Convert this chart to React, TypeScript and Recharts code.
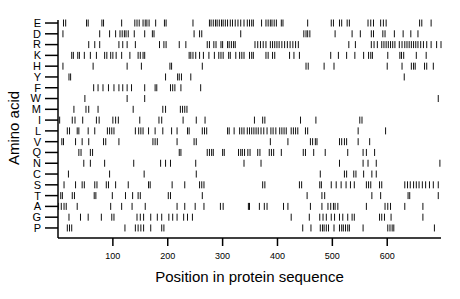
import { ScatterChart, Scatter, XAxis, YAxis, Label } from "recharts";

const aminoAcids = ["E", "D", "R", "K", "H", "Y", "F", "W", "M", "I", "L", "V", "Q", "N", "C", "S", "T", "A", "G", "P"];

// positions of each residue along the sequence
const posE = [10, 14, 52, 55, 80, 83, 116, 140, 144, 148, 155, 159, 162, 166, 178, 194, 197, 246, 276, 279, 283, 287, 290, 294, 298, 301, 305, 309, 314, 318, 323, 328, 333, 339, 345, 349, 353, 356, 371, 379, 383, 387, 390, 394, 398, 407, 410, 455, 498, 502, 513, 517, 527, 531, 565, 570, 575, 588, 593, 598, 659, 663, 680];
const posD = [9, 76, 94, 105, 113, 117, 121, 124, 128, 139, 158, 172, 175, 248, 258, 262, 333, 448, 452, 455, 459, 505, 536, 551, 571, 575, 592, 596, 613, 629, 643, 656];
const posR = [56, 67, 76, 111, 118, 126, 141, 185, 193, 197, 221, 233, 272, 276, 284, 288, 297, 300, 309, 312, 316, 320, 323, 359, 364, 369, 374, 379, 387, 391, 395, 399, 403, 408, 413, 418, 423, 428, 433, 438, 530, 542, 571, 576, 582, 590, 594, 598, 602, 606, 610, 614, 622, 627, 632, 636, 640, 644, 648, 652, 656, 661, 666, 672, 680, 690, 698];
const posK = [25, 28, 36, 39, 48, 59, 70, 85, 89, 96, 100, 106, 116, 131, 146, 150, 155, 158, 239, 242, 246, 251, 258, 265, 275, 285, 293, 297, 301, 311, 314, 324, 331, 335, 339, 349, 353, 356, 379, 383, 391, 395, 422, 430, 440, 497, 511, 526, 541, 557, 566, 570, 573, 601, 623, 626, 630, 653, 671];
const posH = [9, 64, 126, 152, 204, 207, 263, 452, 456, 485, 503, 600, 627, 644, 648, 651, 668, 672, 684];
const posY = [20, 23, 196, 218, 221, 225, 242, 631];
const posF = [65, 73, 82, 92, 102, 111, 118, 126, 134, 158, 177, 180, 205, 209, 213, 224, 260];
const posW = [49, 126, 158, 693];
const posM = [29, 51, 56, 73, 137, 191, 196, 223, 227, 231, 235];
const posI = [3, 26, 31, 45, 70, 75, 100, 105, 110, 149, 184, 189, 228, 252, 268, 358, 373, 377, 442, 470, 550, 554];
const posL = [17, 21, 35, 38, 55, 67, 90, 94, 98, 102, 141, 147, 151, 155, 165, 177, 191, 207, 217, 236, 239, 263, 267, 271, 309, 312, 321, 331, 335, 339, 345, 349, 353, 357, 361, 365, 370, 375, 381, 388, 392, 397, 404, 408, 412, 416, 425, 429, 433, 437, 451, 455, 547, 597];
const posV = [7, 10, 32, 44, 56, 83, 87, 111, 173, 177, 181, 217, 248, 252, 387, 419, 460, 464, 469, 472, 513, 517, 522, 526, 547, 568];
const posQ = [38, 42, 59, 63, 221, 224, 272, 276, 280, 283, 300, 303, 329, 333, 336, 340, 346, 350, 364, 368, 385, 389, 393, 407, 447, 451, 466, 487, 528, 556, 562, 577];
const posN = [47, 59, 85, 138, 187, 196, 205, 251, 339, 370, 513, 556, 565, 580, 696];
const posC = [19, 94, 157, 252, 478, 522, 526, 539, 543, 557, 572, 580];
const posS = [11, 32, 44, 48, 67, 71, 88, 92, 105, 128, 165, 168, 208, 231, 258, 262, 266, 373, 377, 440, 444, 477, 480, 498, 507, 516, 525, 533, 540, 562, 566, 570, 586, 590, 632, 637, 642, 648, 653, 658, 664, 670, 677, 684, 693];
const posT = [5, 8, 26, 30, 66, 69, 99, 123, 136, 146, 150, 201, 205, 263, 454, 481, 486, 572, 588, 638, 641, 693];
const posA = [1, 6, 11, 15, 35, 96, 116, 135, 159, 217, 231, 250, 266, 296, 301, 347, 349, 367, 376, 381, 411, 419, 460, 481, 492, 497, 502, 505, 510, 562, 596, 601, 606, 632, 665];
const posG = [20, 41, 55, 79, 98, 102, 144, 150, 156, 169, 181, 189, 202, 209, 217, 229, 236, 245, 425, 458, 477, 483, 489, 498, 504, 513, 519, 528, 536, 540, 586, 590, 595, 607, 665];
const posP = [17, 21, 25, 122, 141, 146, 151, 156, 169, 189, 193, 446, 461, 478, 482, 485, 489, 493, 503, 513, 517, 520, 524, 528, 531, 556, 601, 605, 609, 612, 686];

const positions = [posE, posD, posR, posK, posH, posY, posF, posW, posM, posI, posL, posV, posQ, posN, posC, posS, posT, posA, posG, posP];

const xTicks = [100, 200, 300, 400, 500, 600];
const yTicks = aminoAcids.map((_, i) => i);

const FONT = "'Liberation Sans', Arial, Helvetica, sans-serif";

// top row (E) gets the highest y value
const points = aminoAcids.flatMap((aa, i) =>
  positions[i].map((p) => ({ pos: p, row: aminoAcids.length - 1 - i, aa }))
);

function Dash(props: any) {
  const { cx, cy } = props;
  if (cx == null || cy == null) return null;
  return <line x1={cx} x2={cx} y1={cy - 3.5} y2={cy + 3.5} stroke="#111" strokeWidth={1} />;
}

export default function App() {
  return (
    <div style={{ position: "absolute", left: 0, top: 0, width: 460, height: 299, background: "#fff" }}>
      <ScatterChart
        width={460}
        height={299}
        margin={{ top: 20, right: 19, bottom: 0, left: 0 }}
        style={{ fontFamily: FONT }}
      >
        <XAxis
          type="number"
          dataKey="pos"
          domain={[0, 698]}
          ticks={xTicks}
          height={61}
          tickSize={8}
          tickMargin={7}
          axisLine={{ stroke: "#000", strokeWidth: 1.5 }}
          tickLine={{ stroke: "#000", strokeWidth: 1.5 }}
          tick={{ fontSize: 9, fill: "#000", fontFamily: FONT }}
        >
          <Label
            value="Position in protein sequence"
            position="insideBottom"
            offset={17}
            style={{ fontSize: 15, fill: "#000", fontFamily: FONT }}
          />
        </XAxis>
        <YAxis
          type="number"
          dataKey="row"
          domain={[-0.93, 19.28]}
          ticks={yTicks}
          interval={0}
          width={58}
          tickSize={13}
          tickMargin={4}
          tickFormatter={(v: number) => aminoAcids[aminoAcids.length - 1 - v]}
          axisLine={{ stroke: "#000", strokeWidth: 1.5 }}
          tickLine={{ stroke: "#000", strokeWidth: 1.5 }}
          tick={{ fontSize: 11, fill: "#000", fontFamily: FONT }}
        >
          <Label
            content={() => (
              <text
                x={13}
                y={128}
                transform="rotate(-90 13 128)"
                textAnchor="middle"
                dominantBaseline="central"
                style={{ fontSize: 15, fill: "#000", fontFamily: FONT }}
              >
                Amino acid
              </text>
            )}
          />
        </YAxis>
        <Scatter data={points} shape={<Dash />} isAnimationActive={false} />
      </ScatterChart>
    </div>
  );
}
